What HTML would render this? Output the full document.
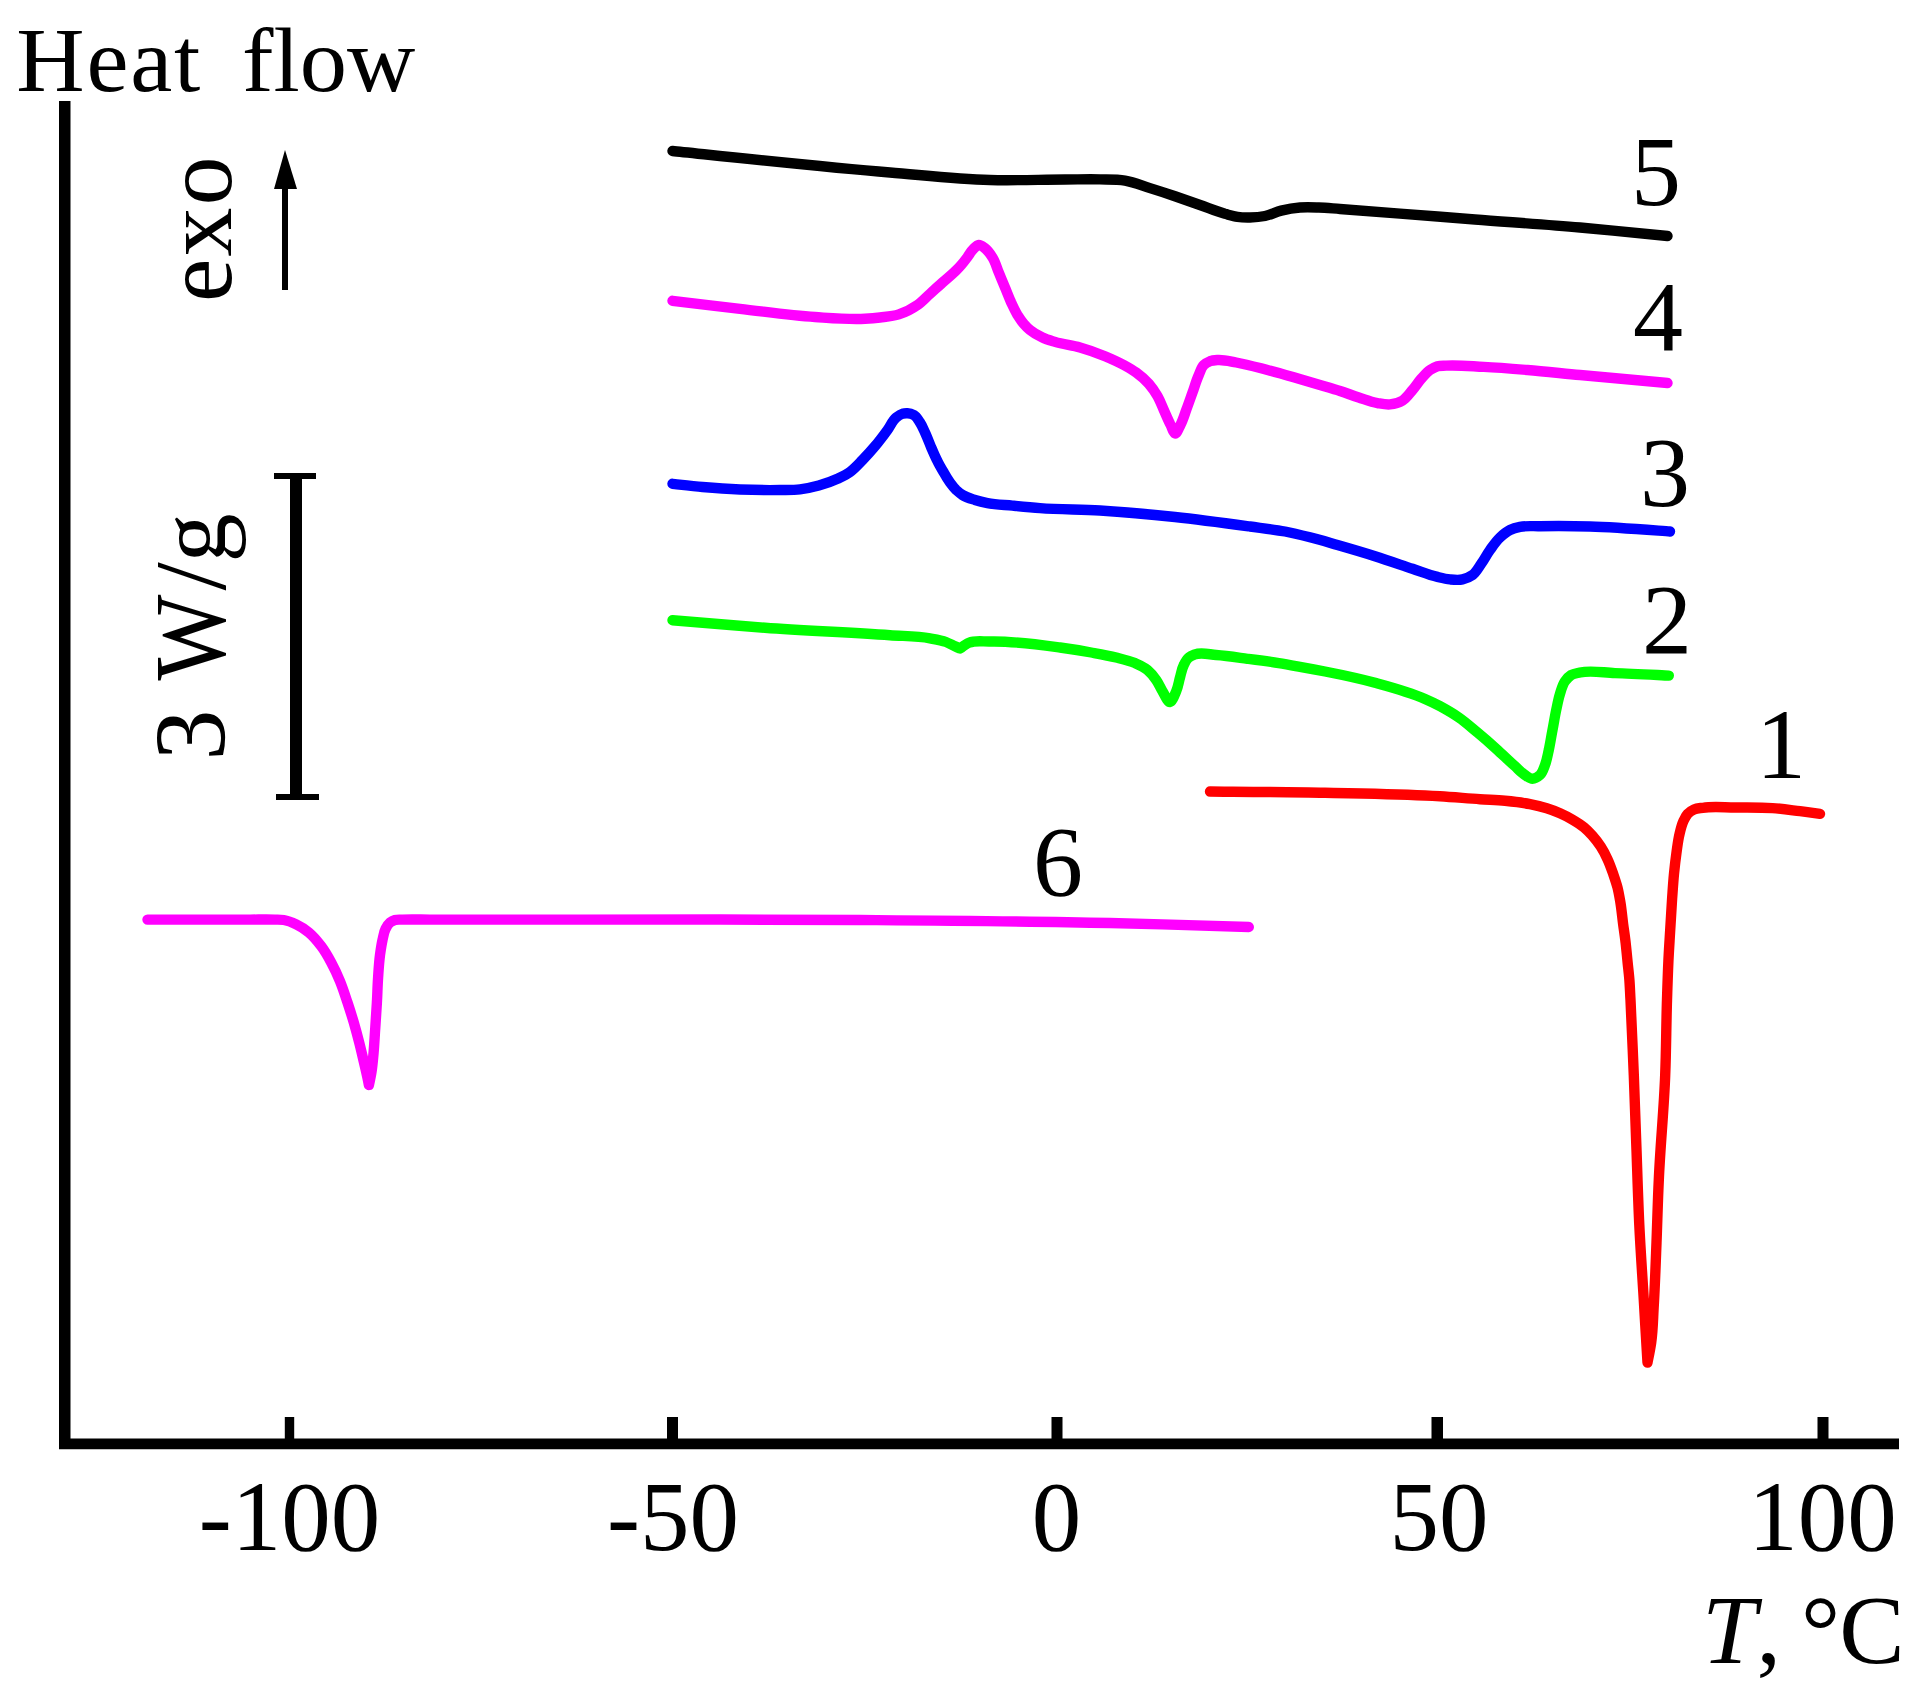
<!DOCTYPE html>
<html><head><meta charset="utf-8"><title>DSC heat flow curves</title>
<style>
html,body{margin:0;padding:0;background:#fff;}
svg{display:block;}
text{font-family:"Liberation Serif",serif;fill:#000;}
</style></head><body>
<svg width="1920" height="1697" viewBox="0 0 1920 1697">
<rect width="1920" height="1697" fill="#fff"/>
<!-- axes -->
<rect x="59" y="101" width="11.5" height="1348" fill="#000"/>
<rect x="59" y="1438.5" width="1840" height="10.75" fill="#000"/>
<!-- ticks -->
<rect x="284.8" y="1417" width="9.4" height="25" fill="#000"/>
<rect x="667" y="1417" width="11" height="25" fill="#000"/>
<rect x="1051.5" y="1417" width="11" height="25" fill="#000"/>
<rect x="1431.5" y="1417" width="11.5" height="25" fill="#000"/>
<rect x="1817.5" y="1417" width="11" height="25" fill="#000"/>
<!-- exo arrow -->
<rect x="282" y="185" width="6" height="105" fill="#000"/>
<polygon points="285,150 297,189 274,189" fill="#000"/>
<!-- scale bar -->
<rect x="290" y="476" width="12" height="321" fill="#000"/>
<rect x="274" y="473" width="42" height="6" fill="#000"/>
<rect x="276" y="794" width="43" height="6" fill="#000"/>
<path d="M672.5,151.0C701.5,153.9 817.4,166.5 890.0,172.5C923.3,175.2 956.6,179.1 990.0,180.0C1015.0,180.7 1040.0,179.6 1065.0,179.5C1076.7,179.5 1088.3,179.1 1100.0,179.4C1108.3,179.6 1116.8,179.2 1125.0,180.6C1133.5,182.0 1141.7,185.5 1150.0,188.1C1158.4,190.7 1166.7,193.4 1175.0,196.2C1183.4,199.1 1191.7,202.1 1200.0,205.0C1208.3,207.9 1216.5,211.3 1225.0,213.8C1229.1,214.9 1233.3,216.3 1237.5,216.9C1241.6,217.5 1245.8,217.6 1250.0,217.5C1255.0,217.4 1260.1,217.0 1265.0,216.0C1270.6,214.9 1275.7,212.0 1281.2,210.6C1287.4,209.1 1293.7,208.0 1300.0,207.5C1306.2,207.0 1312.5,207.3 1318.8,207.5C1325.8,207.7 1332.9,208.5 1340.0,209.0C1360.0,210.4 1380.0,212.0 1400.0,213.6C1425.0,215.5 1450.0,217.6 1475.0,219.5C1510.0,222.2 1545.0,224.4 1580.0,227.5C1609.2,230.1 1655.8,234.9 1667.5,236.0" fill="none" stroke="#000000" stroke-width="10.4" stroke-linecap="round" stroke-linejoin="round"/>
<path d="M672.5,300.8C681.5,301.8 717.5,306.2 740.0,308.8C765.0,311.6 789.9,315.4 815.0,317.0C831.6,318.1 848.4,319.7 865.0,318.8C870.0,318.5 875.0,318.1 880.0,317.5C886.3,316.7 892.8,316.3 898.8,314.4C905.3,312.3 911.8,309.0 917.5,305.0C922.0,301.8 925.8,297.5 930.0,293.8C934.2,290.0 938.3,286.2 942.5,282.5C946.6,278.8 951.0,275.4 955.0,271.5C957.1,269.4 959.3,267.3 961.2,265.0C963.5,262.5 965.5,259.7 967.5,257.0C969.5,254.3 971.0,251.1 973.5,248.8C975.1,247.3 976.9,245.2 978.8,245.0C980.7,244.8 983.1,246.9 985.0,248.3C988.1,250.6 990.4,254.2 992.5,257.5C995.4,262.0 996.7,267.5 998.8,272.5C1000.8,277.5 1002.9,282.5 1005.0,287.5C1007.1,292.5 1009.0,297.6 1011.2,302.5C1013.2,306.7 1015.1,311.0 1017.5,315.0C1019.4,318.0 1021.4,321.0 1023.8,323.8C1025.7,326.0 1027.7,328.1 1030.0,330.0C1033.7,333.1 1038.1,335.5 1042.5,337.5C1046.5,339.4 1050.8,340.6 1055.0,341.9C1063.2,344.4 1071.8,345.2 1080.0,347.5C1088.5,349.9 1096.9,352.9 1105.0,356.2C1111.4,358.9 1117.7,361.7 1123.8,365.0C1128.0,367.3 1132.3,369.7 1136.2,372.5C1140.8,375.8 1145.1,379.6 1148.8,383.8C1152.1,387.6 1155.0,391.9 1157.5,396.2C1160.0,400.6 1161.7,405.4 1163.8,410.0C1166.0,415.0 1168.1,420.1 1170.6,425.0C1172.1,427.9 1173.7,433.4 1175.3,433.5C1176.9,433.6 1178.9,427.9 1180.4,425.0C1182.9,420.2 1184.4,415.0 1186.2,410.0C1188.4,404.2 1190.4,398.3 1192.5,392.5C1194.6,386.7 1196.2,380.7 1198.8,375.0C1200.3,371.6 1201.2,367.5 1203.8,365.0C1205.4,363.4 1207.8,362.1 1210.0,361.2C1212.3,360.4 1215.0,360.2 1217.5,360.0C1223.7,359.5 1230.0,361.4 1236.2,362.5C1246.8,364.3 1257.1,367.3 1267.5,370.0C1278.0,372.7 1288.4,375.8 1298.8,378.8C1305.8,380.8 1312.9,382.9 1320.0,385.0C1326.7,387.0 1333.4,388.9 1340.0,391.0C1346.3,393.0 1352.5,395.5 1358.8,397.5C1365.0,399.5 1371.1,402.0 1377.5,403.1C1381.6,403.8 1385.9,404.8 1390.0,404.4C1394.3,404.0 1398.9,402.8 1402.5,400.6C1406.5,398.2 1409.3,393.7 1412.5,390.0C1415.6,386.4 1418.1,382.3 1421.2,378.8C1424.0,375.7 1426.6,372.3 1430.0,370.0C1432.3,368.5 1434.9,367.0 1437.5,366.2C1440.3,365.5 1443.3,365.8 1446.2,365.6C1458.7,364.9 1471.3,366.3 1483.8,366.9C1498.3,367.6 1512.9,368.8 1527.5,370.0C1545.0,371.4 1562.5,373.4 1580.0,375.0C1609.2,377.7 1655.8,381.9 1667.5,383.0" fill="none" stroke="#ff00ff" stroke-width="10.4" stroke-linecap="round" stroke-linejoin="round"/>
<path d="M672.5,483.8C676.5,484.2 692.5,486.1 702.5,487.0C715.0,488.1 727.5,489.0 740.0,489.5C753.3,490.0 766.7,490.2 780.0,490.0C786.7,489.9 793.4,490.2 800.0,489.4C806.3,488.7 812.6,487.3 818.8,485.6C825.1,483.8 831.5,481.6 837.5,478.8C841.8,476.7 846.2,474.6 850.0,471.9C854.6,468.6 858.5,464.1 862.5,460.0C866.8,455.6 871.0,451.0 875.0,446.2C879.4,441.0 883.5,435.5 887.5,430.0C890.5,425.9 892.4,420.6 896.2,417.5C898.1,416.0 900.2,414.4 902.5,413.8C904.1,413.3 905.9,413.2 907.5,413.3C909.6,413.4 911.9,414.0 913.8,415.0C916.5,416.5 918.2,419.8 920.0,422.5C922.1,425.6 923.4,429.1 925.0,432.5C927.3,437.4 929.1,442.5 931.2,447.5C933.3,452.1 935.2,456.8 937.5,461.2C939.4,465.1 941.6,468.8 943.8,472.5C945.7,475.9 947.7,479.3 950.0,482.5C951.9,485.1 953.9,487.8 956.2,490.0C958.2,491.8 960.3,493.6 962.5,495.0C966.3,497.4 970.7,498.6 975.0,500.0C979.1,501.3 983.3,502.3 987.5,503.1C995.7,504.7 1004.2,504.8 1012.5,505.6C1021.7,506.5 1030.8,507.4 1040.0,508.1C1060.0,509.6 1080.0,509.3 1100.0,510.5C1125.0,512.0 1150.1,514.3 1175.0,517.0C1200.1,519.7 1225.0,523.1 1250.0,526.5C1261.7,528.1 1273.4,529.3 1285.0,531.5C1293.4,533.1 1301.7,535.2 1310.0,537.3C1319.2,539.6 1328.4,542.4 1337.5,545.0C1350.0,548.6 1362.6,552.3 1375.0,556.2C1387.6,560.2 1400.0,564.6 1412.5,568.8C1420.8,571.5 1429.0,574.9 1437.5,576.9C1441.6,577.9 1445.8,579.0 1450.0,579.4C1454.1,579.8 1458.5,580.3 1462.5,579.4C1466.0,578.6 1469.6,577.1 1472.5,575.0C1476.2,572.3 1478.5,567.6 1481.2,563.8C1484.4,559.3 1486.8,554.4 1490.0,550.0C1493.1,545.7 1496.1,541.1 1500.0,537.5C1503.0,534.7 1506.3,531.8 1510.0,530.0C1513.1,528.5 1516.6,527.6 1520.0,526.9C1526.5,525.5 1533.3,526.4 1540.0,526.2C1556.7,525.9 1573.3,526.0 1590.0,526.5C1616.7,527.2 1659.3,530.8 1670.0,531.5" fill="none" stroke="#0000ff" stroke-width="10.4" stroke-linecap="round" stroke-linejoin="round"/>
<path d="M672.5,620.2C684.8,621.2 734.1,625.5 765.0,627.8C806.6,630.8 848.4,632.2 890.0,635.2C903.3,636.2 916.9,635.9 930.0,638.3C935.4,639.3 940.9,640.1 946.0,642.0C949.1,643.2 952.0,644.9 955.0,646.3C956.7,647.1 959.3,648.2 960.0,648.5C961.2,647.7 965.8,644.1 969.0,642.8C975.3,640.1 983.0,641.7 990.0,641.5C1013.4,640.9 1036.8,644.3 1060.0,647.5C1070.4,648.9 1080.9,650.6 1091.2,652.5C1099.6,654.0 1108.0,655.4 1116.2,657.5C1122.6,659.1 1129.1,660.5 1135.0,663.1C1139.3,665.0 1143.9,667.0 1147.5,670.0C1150.9,672.8 1153.7,676.4 1156.2,680.0C1158.7,683.5 1160.2,687.6 1162.5,691.2C1164.8,695.0 1167.7,702.2 1170.0,702.0C1172.2,701.8 1174.6,695.0 1176.2,691.2C1178.1,686.9 1178.7,682.1 1180.0,677.5C1181.2,673.3 1181.8,668.8 1183.8,665.0C1185.1,662.3 1186.5,659.3 1188.8,657.5C1190.5,656.1 1192.9,655.2 1195.0,654.4C1201.5,652.1 1209.2,654.5 1216.2,655.0C1226.7,655.7 1237.1,657.4 1247.5,658.8C1257.9,660.1 1268.4,661.4 1278.8,663.1C1285.9,664.3 1292.9,665.6 1300.0,666.9C1308.3,668.4 1316.7,669.9 1325.0,671.5C1341.8,674.8 1358.5,678.2 1375.0,682.8C1391.9,687.4 1409.0,691.9 1425.0,699.0C1430.1,701.2 1435.1,703.6 1440.0,706.2C1446.4,709.7 1452.8,713.4 1458.8,717.5C1465.3,722.0 1471.3,727.4 1477.5,732.5C1483.9,737.8 1490.1,743.2 1496.2,748.8C1502.6,754.5 1508.6,760.6 1515.0,766.2C1518.3,769.2 1521.3,772.7 1525.0,775.0C1527.3,776.5 1530.0,778.8 1532.5,778.8C1535.0,778.8 1538.0,776.8 1540.0,775.0C1542.6,772.6 1543.7,768.5 1545.0,765.0C1546.9,760.2 1547.6,755.0 1548.8,750.0C1550.2,743.4 1551.2,736.7 1552.5,730.0C1553.8,723.3 1554.8,716.6 1556.2,710.0C1557.4,704.6 1558.3,699.0 1560.0,693.8C1561.4,689.5 1562.4,684.8 1565.0,681.2C1566.7,678.9 1568.8,676.5 1571.2,675.0C1573.8,673.5 1577.1,673.2 1580.0,672.5C1591.3,670.0 1603.3,672.8 1615.0,673.1C1632.9,673.6 1661.6,675.3 1668.8,675.6" fill="none" stroke="#00ff00" stroke-width="10.4" stroke-linecap="round" stroke-linejoin="round"/>
<path d="M1210.0,791.5C1225.3,791.7 1286.7,792.0 1325.0,792.8C1358.3,793.4 1391.7,793.9 1425.0,795.5C1430.0,795.7 1435.0,796.0 1440.0,796.2C1453.3,797.0 1466.7,798.3 1480.0,799.2C1488.3,799.8 1496.7,800.0 1505.0,800.8C1513.4,801.6 1521.8,802.5 1530.0,804.2C1535.6,805.3 1541.2,806.6 1546.7,808.3C1551.2,809.7 1555.7,811.4 1560.0,813.3C1564.0,815.1 1567.9,817.0 1571.7,819.2C1576.0,821.7 1580.4,824.3 1584.2,827.5C1587.2,830.0 1589.9,832.9 1592.5,835.8C1595.5,839.2 1598.3,842.9 1600.8,846.7C1603.4,850.7 1605.5,854.9 1607.5,859.2C1609.8,864.1 1611.5,869.1 1613.3,874.2C1614.8,878.6 1616.3,883.0 1617.5,887.5C1618.8,892.6 1619.6,897.8 1620.5,903.0C1621.6,909.9 1622.2,916.8 1623.1,923.8C1623.9,930.0 1624.9,936.2 1625.6,942.5C1626.3,948.7 1626.9,955.0 1627.5,961.2C1628.1,967.5 1628.9,973.7 1629.4,980.0C1629.9,986.7 1630.1,993.3 1630.5,1000.0C1631.8,1025.0 1632.7,1050.0 1633.8,1075.0C1634.7,1100.0 1635.6,1125.0 1636.5,1150.0C1637.4,1175.0 1638.1,1200.0 1639.3,1225.0C1640.5,1250.0 1642.3,1275.0 1643.8,1300.0C1645.0,1320.8 1647.0,1354.2 1647.5,1362.5C1648.0,1359.8 1650.3,1349.2 1651.2,1342.5C1653.0,1330.1 1653.0,1317.5 1653.8,1305.0C1655.0,1284.2 1655.7,1263.3 1656.5,1242.5C1657.3,1221.7 1657.8,1200.8 1658.8,1180.0C1660.3,1145.0 1663.9,1110.0 1665.2,1075.0C1666.2,1050.0 1666.2,1025.0 1667.0,1000.0C1667.4,987.1 1667.8,974.2 1668.4,961.2C1668.9,950.8 1669.6,940.4 1670.2,930.0C1670.9,919.6 1671.4,909.2 1672.1,898.8C1672.7,890.4 1673.2,882.1 1674.0,873.8C1674.7,866.7 1675.5,859.6 1676.5,852.5C1677.4,846.2 1678.1,839.9 1679.6,833.8C1680.6,829.5 1681.6,825.2 1683.4,821.2C1684.6,818.6 1685.8,815.8 1687.8,813.8C1689.5,812.0 1691.7,810.4 1694.0,809.4C1696.7,808.2 1699.8,808.2 1702.8,807.8C1713.4,806.2 1724.3,807.5 1735.0,807.5C1747.5,807.5 1760.0,807.2 1772.5,808.1C1781.7,808.8 1790.8,810.1 1800.0,811.2C1806.7,812.1 1817.3,813.4 1820.0,813.8" fill="none" stroke="#ff0000" stroke-width="10.4" stroke-linecap="round" stroke-linejoin="round"/>
<path d="M147.5,919.6C161.2,919.6 215.8,919.6 250.0,919.6C258.3,919.6 266.7,919.3 275.0,919.6C277.9,919.7 280.9,919.5 283.8,920.0C288.1,920.7 292.3,922.5 296.2,924.4C300.7,926.5 305.0,929.4 308.8,932.5C313.5,936.4 317.5,941.3 321.2,946.2C325.1,951.3 328.2,956.9 331.2,962.5C334.5,968.6 337.4,974.9 340.0,981.2C342.9,988.2 345.1,995.4 347.5,1002.5C349.7,1009.1 351.8,1015.8 353.8,1022.5C355.7,1029.1 357.5,1035.8 359.2,1042.5C360.9,1049.1 362.4,1055.8 364.0,1062.5C365.2,1067.5 366.4,1072.5 367.4,1077.5C367.9,1080.0 368.7,1084.0 368.9,1085.0C369.3,1083.2 370.9,1075.9 371.6,1071.2C372.6,1065.0 373.0,1058.8 373.6,1052.5C374.3,1044.2 374.7,1035.8 375.3,1027.5C375.8,1019.2 376.4,1010.8 376.9,1002.5C377.4,994.2 377.5,985.8 378.1,977.5C378.6,970.0 379.0,962.5 380.0,955.0C380.7,950.0 381.4,944.9 382.5,940.0C383.4,936.2 383.8,932.2 385.6,928.8C386.8,926.5 388.1,924.0 390.0,922.5C391.4,921.4 393.3,920.5 395.0,920.0C397.4,919.3 400.0,919.7 402.5,919.6C411.7,919.2 420.8,919.6 430.0,919.6C480.0,919.6 530.0,919.6 580.0,919.6C673.3,919.6 766.7,919.3 860.0,920.0C943.3,920.6 1026.7,921.1 1110.0,923.0C1156.3,924.1 1230.2,926.5 1248.8,927.0" fill="none" stroke="#ff00ff" stroke-width="10.4" stroke-linecap="round" stroke-linejoin="round"/>

<text id="t_heat" y="91" font-size="91"><tspan x="16.3" letter-spacing="1.7" textLength="185.7" lengthAdjust="spacingAndGlyphs">Heat</tspan> <tspan x="242" textLength="173.2" lengthAdjust="spacingAndGlyphs">flow</tspan></text>
<text id="t_exo" transform="translate(231,302) rotate(-90)" font-size="98" letter-spacing="2">exo</text>
<text id="t_wg" transform="translate(225,757) rotate(-90)" font-size="102"><tspan x="-3.5">3</tspan> <tspan x="76.5" textLength="86" lengthAdjust="spacingAndGlyphs">W</tspan><tspan x="166.5">/</tspan><tspan x="194.5" font-size="98">g</tspan></text>
<text id="l5" x="1631" y="204.5" font-size="100">5</text>
<text id="l4" x="1633" y="350" font-size="100">4</text>
<text id="l3" x="1640" y="505.5" font-size="100">3</text>
<text id="l2" x="1642" y="652.5" font-size="100">2</text>
<text id="l1" x="1756" y="777.5" font-size="100">1</text>
<text id="l6" x="1033" y="895" font-size="100">6</text>
<text id="xm100" x="289.5" y="1550.3" font-size="99" text-anchor="middle">-100</text>
<text id="xm50" x="673" y="1550.3" font-size="99" text-anchor="middle">-50</text>
<text id="x0" x="1056.5" y="1550.3" font-size="99" text-anchor="middle">0</text>
<text id="x50" x="1439" y="1550.3" font-size="99" text-anchor="middle">50</text>
<text id="x100" x="1822.5" y="1550.3" font-size="99" text-anchor="middle">100</text>
<text id="t_T" x="1702" y="1662.5" font-size="98"><tspan font-style="italic">T</tspan>, <tspan dx="-4.5">°</tspan><tspan dx="-1">C</tspan></text>
</svg>
</body></html>
